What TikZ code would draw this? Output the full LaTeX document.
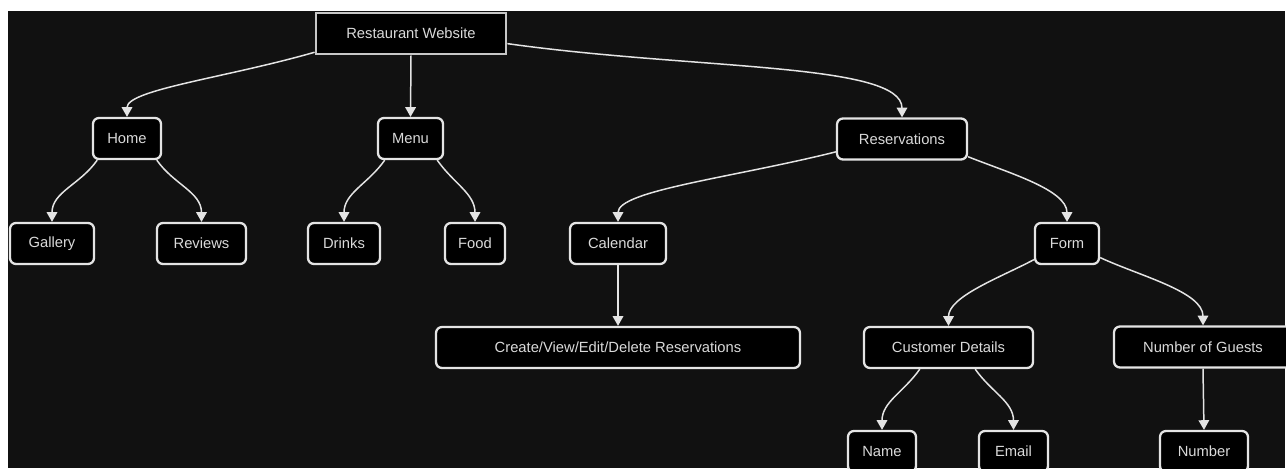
\documentclass[tikz,border=0pt]{standalone}
\usepackage{fontspec}
\setmainfont{Liberation Sans}
\usepackage{tikz}
\usetikzlibrary{arrows.meta}
\definecolor{bgdark}{HTML}{111111}
\definecolor{linegrey}{HTML}{E4E4E4}
\definecolor{textgrey}{HTML}{DADADA}
\tikzset{
	item/.style={draw=linegrey, fill=black, rounded corners=3.4pt, line width=1.3pt, minimum height=0.82cm, inner sep=0pt, text=textgrey, font=\fontsize{8.4}{10}\selectfont},
	topitem/.style={item, draw=black!22, rounded corners=0pt, line width=1.6pt},
	link/.style={draw=linegrey, line width=0.85pt, -{Triangle[width=6pt,length=5.5pt]}},
	longlink/.style={link, out looseness=1.2, in looseness=0.35},
	midlink/.style={link, out looseness=0.9, in looseness=0.7}
}

\begin{document}
\begin{tikzpicture}[x=0.02cm, y=0.02cm]
			%%%%% START %%%%%
			
			\useasboundingbox (0, 0) rectangle (1286, -468);
			\fill[white] (0, 0) rectangle (1286, -468);
			\fill[bgdark] (8, -11) rectangle (1285, -468);
			\clip (0, 0) rectangle (1286, -468);
			
			\node[topitem, minimum width=3.8cm, minimum height=0.82cm] (site) at (411, -33.5) {Restaurant Website};
			
			\node[item, minimum width=1.36cm] (home) at (127, -138.5) {Home};
			\node[item, minimum width=1.3cm] (menu) at (410.5, -138.5) {Menu};
			\node[item, minimum width=2.6cm] (resv) at (902, -139) {Reservations};
			
			\node[item, minimum width=1.68cm] (gallery) at (52, -243.5) {Gallery};
			\node[item, minimum width=1.78cm] (reviews) at (201.5, -243.5) {Reviews};
			\node[item, minimum width=1.44cm] (drinks) at (344, -243.5) {Drinks};
			\node[item, minimum width=1.2cm] (food) at (475, -243.5) {Food};
			\node[item, minimum width=1.92cm] (calendar) at (618, -243.5) {Calendar};
			\node[item, minimum width=1.28cm] (form) at (1067, -243.5) {Form};
			
			\node[item, minimum width=7.28cm] (manage) at (618, -347.5) {Create/View/Edit/Delete Reservations};
			\node[item, minimum width=3.38cm] (details) at (948.5, -347.5) {Customer Details};
			\node[item, minimum width=3.56cm] (guests) at (1203, -347) {Number of Guests};
			
			\node[item, minimum width=1.36cm] (name) at (882, -451.5) {Name};
			\node[item, minimum width=1.38cm] (email) at (1013.5, -451.5) {Email};
			\node[item, minimum width=1.76cm] (number) at (1204, -451.5) {Number};
			
			\draw[longlink] (site.191) to[out=196, in=90] (home.north);
			\draw[link] (site.south) -- (menu.north);
			\draw[longlink] (site.-6) to[out=-8, in=90] (resv.north);
			
			\draw[link] (home.216) to[out=235, in=90] (gallery.north);
			\draw[link] (home.324) to[out=-55, in=90] (reviews.north);
			\draw[link] (menu.220) to[out=235, in=90] (drinks.north);
			\draw[link] (menu.321) to[out=-55, in=90] (food.north);
			
			\draw[longlink] (resv.191) to[out=194, in=90] (calendar.north);
			\draw[midlink] (resv.-15) to[out=-22, in=90] (form.north);
			\draw[link] (calendar.south) -- (manage.north);
			
			\draw[midlink] (form.206) to[out=208, in=90] (details.north);
			\draw[midlink] (form.-23) to[out=-25, in=90] (guests.north);
			
			\draw[link] (details.217) to[out=235, in=90] (name.north);
			\draw[link] (details.-39) to[out=-55, in=90] (email.north);
			\draw[link] (guests.south) -- (number.north);
			
			%%%%% END %%%%%
\end{tikzpicture}
\end{document}
